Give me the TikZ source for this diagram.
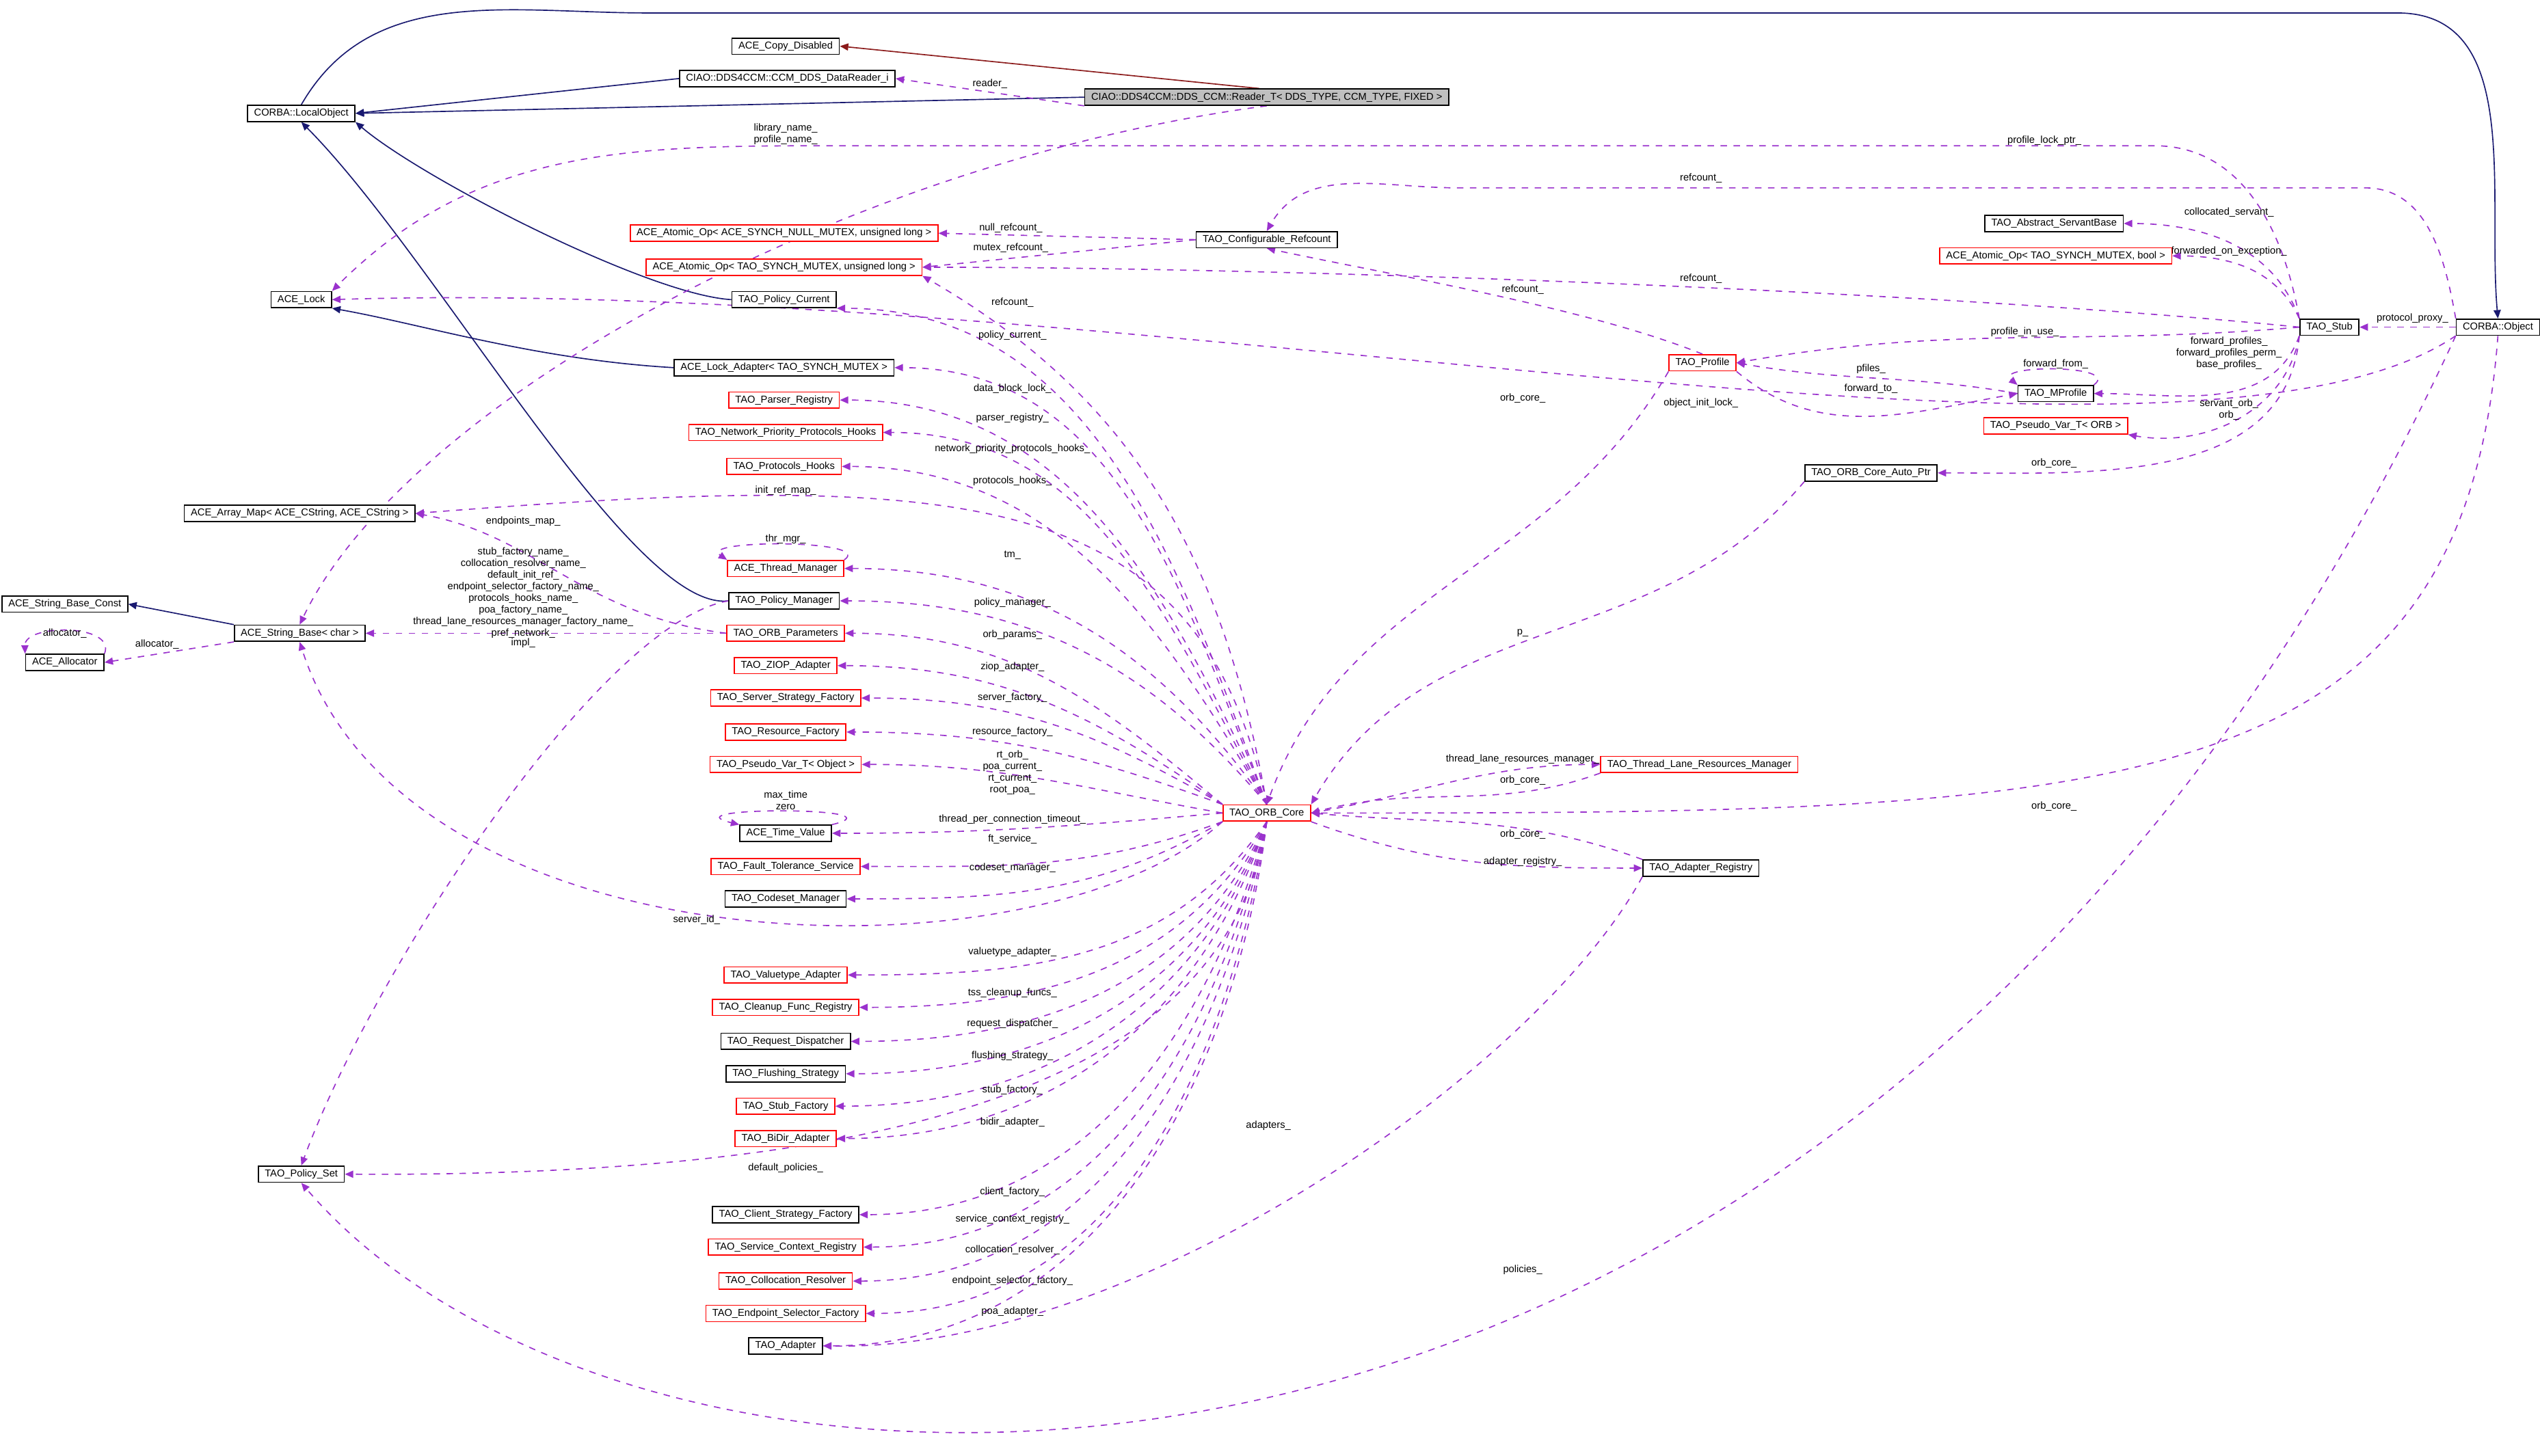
\documentclass[tikz,border=0pt]{standalone}
\usepackage{fontspec}
\setmainfont{Liberation Sans}
\usetikzlibrary{arrows.meta}
\definecolor{dpurple}{HTML}{9A32CD}
\definecolor{dnavy}{HTML}{191970}
\definecolor{dred}{HTML}{8B1A1A}
\pgfdeclarelayer{back}
\pgfdeclarelayer{bg}
\pgfsetlayers{back,bg,main}
\tikzset{
 box/.style={draw=black,line width=0.35pt,inner xsep=2pt,inner ysep=0pt,minimum height=5pt,font=\fontsize{3.1}{3.4}\selectfont,fill=white},
 rbox/.style={box,draw=red},
 dep/.style={draw=dpurple,line width=0.35pt,dash pattern=on 2pt off 2pt,-{Triangle[length=2.6pt,width=2.2pt]}},
 inh/.style={draw=dnavy,line width=0.35pt,-{Triangle[length=2.6pt,width=2.2pt]}},
 lbl/.style={font=\fontsize{3.1}{3.6}\selectfont,align=center,inner sep=0pt,text=black}
}
\begin{document}
\begin{tikzpicture}[x=0.5pt,y=-0.5pt]
\begin{pgfonlayer}{back}
\fill[white] (0,0) rectangle (1568,898.6);
\end{pgfonlayer}
\useasboundingbox (0,0) rectangle (1568,898.6);
% nodes
\node[box] (cd) at (485,28.5) {ACE\_Copy\_Disabled};
\node[box] (dri) at (486,48.5) {CIAO::DDS4CCM::CCM\_DDS\_DataReader\_i};
\node[box,fill=gray!50] (rdr) at (782,60) {CIAO::DDS4CCM::DDS\_CCM::Reader\_T< DDS\_TYPE, CCM\_TYPE, FIXED >};
\node[box] (lo) at (186,70) {CORBA::LocalObject};
\node[box] (lock) at (186,185) {ACE\_Lock};
\node[rbox] (anull) at (484,144) {ACE\_Atomic\_Op< ACE\_SYNCH\_NULL\_MUTEX, unsigned long >};
\node[rbox] (amut) at (484,165) {ACE\_Atomic\_Op< TAO\_SYNCH\_MUTEX, unsigned long >};
\node[box] (cref) at (782,148) {TAO\_Configurable\_Refcount};
\node[box] (pcur) at (484,185) {TAO\_Policy\_Current};
\node[box] (ladp) at (484,227) {ACE\_Lock\_Adapter< TAO\_SYNCH\_MUTEX >};
\node[rbox] (preg) at (484,247) {TAO\_Parser\_Registry};
\node[rbox] (nph) at (485,267) {TAO\_Network\_Priority\_Protocols\_Hooks};
\node[rbox] (phk) at (484,288) {TAO\_Protocols\_Hooks};
\node[box] (amap) at (185,317) {ACE\_Array\_Map< ACE\_CString, ACE\_CString >};
\node[rbox] (thr) at (485,351) {ACE\_Thread\_Manager};
\node[box] (sbc) at (40,373) {ACE\_String\_Base\_Const};
\node[box] (pman) at (484,371) {TAO\_Policy\_Manager};
\node[box] (sb) at (185,391) {ACE\_String\_Base< char >};
\node[rbox] (orbp) at (485,391) {TAO\_ORB\_Parameters};
\node[box] (alloc) at (40,409) {ACE\_Allocator};
\node[rbox] (ziop) at (485,411) {TAO\_ZIOP\_Adapter};
\node[rbox] (ssf) at (485,431) {TAO\_Server\_Strategy\_Factory};
\node[rbox] (rf) at (485,452) {TAO\_Resource\_Factory};
\node[rbox] (pvo) at (485,472) {TAO\_Pseudo\_Var\_T< Object >};
\node[box] (tv) at (485,514.5) {ACE\_Time\_Value};
\node[rbox] (core) at (782,502) {TAO\_ORB\_Core};
\node[rbox] (fts) at (485,535) {TAO\_Fault\_Tolerance\_Service};
\node[box] (csm) at (485,555) {TAO\_Codeset\_Manager};
\node[rbox] (vta) at (485,602) {TAO\_Valuetype\_Adapter};
\node[rbox] (cfr) at (485,622) {TAO\_Cleanup\_Func\_Registry};
\node[box] (rd) at (485,643) {TAO\_Request\_Dispatcher};
\node[box] (fs) at (485,663) {TAO\_Flushing\_Strategy};
\node[rbox] (sf) at (485,683) {TAO\_Stub\_Factory};
\node[rbox] (bidir) at (485,703) {TAO\_BiDir\_Adapter};
\node[box] (pset) at (186,725) {TAO\_Policy\_Set};
\node[box] (csf) at (485,750) {TAO\_Client\_Strategy\_Factory};
\node[rbox] (scr) at (485,770) {TAO\_Service\_Context\_Registry};
\node[rbox] (cr) at (485,791) {TAO\_Collocation\_Resolver};
\node[rbox] (esf) at (485,811) {TAO\_Endpoint\_Selector\_Factory};
\node[box] (adp) at (485,831) {TAO\_Adapter};
\node[box] (asb) at (1268,138) {TAO\_Abstract\_ServantBase};
\node[rbox] (abool) at (1269,158) {ACE\_Atomic\_Op< TAO\_SYNCH\_MUTEX, bool >};
\node[box] (stub) at (1438,202) {TAO\_Stub};
\node[box] (obj) at (1542,202) {CORBA::Object};
\node[rbox] (prof) at (1051,224) {TAO\_Profile};
\node[box] (mprof) at (1269,243) {TAO\_MProfile};
\node[rbox] (pvorb) at (1269,263) {TAO\_Pseudo\_Var\_T< ORB >};
\node[box] (auto) at (1155,292) {TAO\_ORB\_Core\_Auto\_Ptr};
\node[rbox] (tlrm) at (1049,472) {TAO\_Thread\_Lane\_Resources\_Manager};
\node[box] (areg) at (1050,536) {TAO\_Adapter\_Registry};

\begin{pgfonlayer}{bg}
% inheritance
\draw[inh,draw=dred] (rdr.130) -- (cd.east);
\draw[inh] (rdr.west) -- (lo.east);
\draw[inh] (dri.west) -- (lo.east);
\draw[inh] (lo.north) to[out=60,in=180] (400,8) -- (1480,8) to[out=0,in=95] (obj.north);
\draw[inh] (pcur.west) .. controls (400,182) and (260,110) .. (lo.south east);
\draw[inh] (pman.west) .. controls (390,378) and (270,160) .. (lo.south);
\draw[inh] (ladp.west) .. controls (330,222) and (260,200) .. (lock.south east);
\draw[inh] (sb.north west) -- (sbc.east);

% top / misc dependencies
\draw[dep] (rdr.west|-rdr.south) -- (dri.east) node[lbl,pos=0.5,above=1pt] {reader\_};
\draw[dep] (rdr.south) .. controls (520,100) and (250,250) .. (sb.north)
  node[lbl] at (485,83) {library\_name\_\\profile\_name\_};
\draw[dep] (stub.north west) to[out=100,in=0] (1330,90) -- (520,90) to[out=180,in=45] (lock.north east)
  node[lbl] at (1262,87) {profile\_lock\_ptr\_};
\draw[dep] (obj.north west) to[out=100,in=0] (1460,116) -- (900,116) to[out=180,in=60] (cref.north)
  node[lbl] at (1050,110) {refcount\_};
\draw[dep] (cref.west) -- (anull.east) node[lbl] at (624,141) {null\_refcount\_};
\draw[dep] (cref.west) -- (amut.east) node[lbl] at (624,153) {mutex\_refcount\_};
\draw[dep] (stub.west) .. controls (1200,180) and (800,165) .. (amut.east) node[lbl] at (1050,172) {refcount\_};
\draw[dep] (prof.north) .. controls (980,190) and (860,170) .. (cref.south) node[lbl] at (940,179) {refcount\_};
\draw[dep] (obj.south west) .. controls (1350,320) and (700,170) .. (lock.east) node[lbl] at (1050,249) {object\_init\_lock\_};
\draw[dep] (obj.south west) .. controls (1150,1000) and (400,980) .. (pset.south) node[lbl] at (940,784) {policies\_};
\draw[dep] (obj.south) .. controls (1520,500) and (1300,502) .. (core.east) node[lbl] at (1268,498) {orb\_core\_};
\draw[dep] (obj.west) -- (stub.east) node[lbl,pos=0.45,above=1pt] {protocol\_proxy\_};
\draw[dep] (areg.south west) .. controls (950,660) and (700,835) .. (adp.east) node[lbl] at (783,695) {adapters\_};

% stub fan
\draw[dep] (stub.north west) to[out=110,in=0] (asb.east) node[lbl] at (1376,131) {collocated\_servant\_};
\draw[dep] (stub.north west) to[out=115,in=0] (abool.east) node[lbl] at (1376,155) {forwarded\_on\_exception\_};
\draw[dep] (stub.west) to[out=185,in=10] (prof.east) node[lbl] at (1250,205) {profile\_in\_use\_};
\draw[dep] (stub.south west) to[out=250,in=0] (mprof.east) node[lbl] at (1376,218) {forward\_profiles\_\\forward\_profiles\_perm\_\\base\_profiles\_};
\draw[dep] (stub.south west) to[out=260,in=-10] (pvorb.south east) node[lbl] at (1376,253) {servant\_orb\_\\orb\_};
\draw[dep] (stub.south west) to[out=265,in=0] (auto.east) node[lbl] at (1268,286) {orb\_core\_};
\draw[dep] (mprof.west) to[out=170,in=-10] (prof.east) node[lbl] at (1155,228) {pfiles\_};
\draw[dep] (prof.south east) to[out=-40,in=190] (mprof.west) node[lbl] at (1155,240) {forward\_to\_};
\draw[dep] (mprof.north east) .. controls (1310,225) and (1230,225) .. (mprof.north west) node[lbl] at (1269,225) {forward\_from\_};
\draw[dep] (prof.south west) to[out=240,in=70] (core.north) node[lbl] at (940,246) {orb\_core\_};
\draw[dep] (auto.south west) to[out=230,in=60] (core.north east) node[lbl] at (940,391) {p\_};
\draw[dep] (core.east) to[out=10,in=180] (tlrm.west) node[lbl] at (940,469) {thread\_lane\_resources\_manager\_};
\draw[dep] (tlrm.south west) to[out=200,in=15] (core.east) node[lbl] at (940,482) {orb\_core\_};
\draw[dep] (areg.north west) to[out=160,in=-5] (core.east) node[lbl] at (940,515) {orb\_core\_};
\draw[dep] (core.south east) to[out=-20,in=180] (areg.west) node[lbl] at (940,532) {adapter\_registry\_};

% core fan upward
\draw[dep] (core.north) to[out=100,in=-30] (amut.south east) node[lbl] at (625,187) {refcount\_};
\draw[dep] (core.north) to[out=110,in=0] (pcur.south east) node[lbl] at (625,207) {policy\_current\_};
\draw[dep] (core.north) to[out=112,in=0] (ladp.east) node[lbl] at (625,240) {data\_block\_lock\_};
\draw[dep] (core.north) to[out=115,in=0] (preg.east) node[lbl] at (625,258) {parser\_registry\_};
\draw[dep] (core.north) to[out=118,in=0] (nph.east) node[lbl] at (625,277) {network\_priority\_protocols\_hooks\_};
\draw[dep] (core.north) to[out=120,in=0] (phk.east) node[lbl] at (625,297) {protocols\_hooks\_};
\draw[dep] (core.north) .. controls (740,300) and (600,290) .. (amap.east) node[lbl] at (485,303) {init\_ref\_map\_};
\draw[dep] (orbp.west) .. controls (360,380) and (330,330) .. (amap.east) node[lbl] at (323,322) {endpoints\_map\_};
\draw[dep] (thr.north east) .. controls (540,333) and (430,333) .. (thr.north west) node[lbl] at (485,333) {thr\_mgr\_};
\draw[dep] (core.north) to[out=125,in=0] (thr.east) node[lbl] at (625,343) {tm\_};
\draw[dep] (core.north) to[out=130,in=0] (pman.east) node[lbl] at (625,372) {policy\_manager\_};
\draw[dep] (orbp.west) -- (sb.east) node[lbl] at (323,366) {stub\_factory\_name\_\\collocation\_resolver\_name\_\\default\_init\_ref\_\\endpoint\_selector\_factory\_name\_\\protocols\_hooks\_name\_\\poa\_factory\_name\_\\thread\_lane\_resources\_manager\_factory\_name\_\\pref\_network\_};
\draw[dep] (pman.west) .. controls (370,385) and (230,600) .. (pset.north) node[lbl] at (323,397) {impl\_};
\draw[dep] (core.north west) to[out=140,in=0] (orbp.east) node[lbl] at (625,392) {orb\_params\_};
\draw[dep] (core.north west) to[out=145,in=0] (ziop.east) node[lbl] at (625,412) {ziop\_adapter\_};
\draw[dep] (core.north west) to[out=150,in=0] (ssf.east) node[lbl] at (625,431) {server\_factory\_};
\draw[dep] (core.north west) to[out=160,in=0] (rf.east) node[lbl] at (625,452) {resource\_factory\_};
\draw[dep] (core.west) to[out=170,in=0] (pvo.east) node[lbl] at (625,477) {rt\_orb\_\\poa\_current\_\\rt\_current\_\\root\_poa\_};
\draw[dep] (tv.north east) .. controls (560,498) and (410,498) .. (tv.north west) node[lbl] at (485,494) {max\_time\\zero};
\draw[dep] (core.west) to[out=185,in=0] (tv.east) node[lbl] at (625,506) {thread\_per\_connection\_timeout\_};
\draw[dep] (core.south west) to[out=200,in=0] (fts.east) node[lbl] at (625,518) {ft\_service\_};
\draw[dep] (core.south west) to[out=210,in=0] (csm.east) node[lbl] at (625,536) {codeset\_manager\_};
\draw[dep] (core.south west) .. controls (640,610) and (250,600) .. (sb.south) node[lbl] at (430,568) {server\_id\_};
% core fan downward
\draw[dep] (core.south) to[out=235,in=0] (vta.east) node[lbl] at (625,588) {valuetype\_adapter\_};
\draw[dep] (core.south) to[out=240,in=0] (cfr.east) node[lbl] at (625,613) {tss\_cleanup\_funcs\_};
\draw[dep] (core.south) to[out=245,in=0] (rd.east) node[lbl] at (625,632) {request\_dispatcher\_};
\draw[dep] (core.south) to[out=248,in=0] (fs.east) node[lbl] at (625,652) {flushing\_strategy\_};
\draw[dep] (core.south) to[out=250,in=0] (sf.east) node[lbl] at (625,673) {stub\_factory\_};
\draw[dep] (core.south) to[out=252,in=0] (bidir.east) node[lbl] at (625,693) {bidir\_adapter\_};
\draw[dep] (core.south) .. controls (760,650) and (600,727) .. (pset.east) node[lbl] at (485,721) {default\_policies\_};
\draw[dep] (core.south) to[out=255,in=0] (csf.east) node[lbl] at (625,736) {client\_factory\_};
\draw[dep] (core.south) to[out=257,in=0] (scr.east) node[lbl] at (625,753) {service\_context\_registry\_};
\draw[dep] (core.south) to[out=259,in=0] (cr.east) node[lbl] at (625,772) {collocation\_resolver\_};
\draw[dep] (core.south) to[out=261,in=0] (esf.east) node[lbl] at (625,791) {endpoint\_selector\_factory\_};
\draw[dep] (core.south) to[out=263,in=0] (adp.east) node[lbl] at (625,810) {poa\_adapter\_};
% allocator
\draw[dep] (alloc.north east) .. controls (72,385) and (15,385) .. (alloc.north west) node[lbl] at (40,391) {allocator\_};
\draw[dep] (sb.south west) -- (alloc.east) node[lbl] at (97,398) {allocator\_};
\end{pgfonlayer}
\end{tikzpicture}
\end{document}
